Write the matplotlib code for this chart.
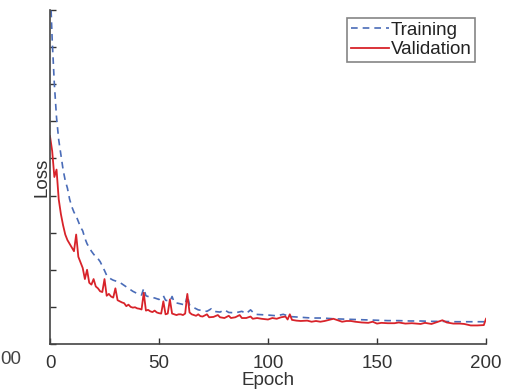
import numpy as np
import matplotlib.pyplot as plt

plt.rcParams['font.family'] = ['Liberation Sans', 'DejaVu Sans']

# training loss
train_epoch = [0, 1, 2, 3, 4, 5, 6, 7, 8, 9, 10, 11, 12, 13, 14, 15, 16, 17, 18, 19,
               20, 21, 22, 23, 24, 25, 26, 27, 28, 29, 30, 32, 34, 36, 38, 40, 42, 43, 44, 46,
               48, 50, 52, 53, 55, 56, 57, 60, 62, 63, 64, 66, 68, 70, 72, 74, 75, 78, 80, 82,
               85, 88, 90, 92, 94, 97, 100, 104, 107, 110, 115, 120, 125, 130, 135, 140, 145, 150, 155, 160,
               165, 170, 175, 180, 185, 190, 195, 200]
train_loss = [9.8, 8.2, 7.0, 6.1, 5.5, 5.1, 4.7, 4.4, 4.2, 3.9, 3.7, 3.55, 3.45, 3.3, 3.15, 3.05, 2.85, 2.7, 2.6, 2.5,
              2.42, 2.35, 2.3, 2.22, 2.1, 1.98, 1.85, 1.8, 1.75, 1.72, 1.7, 1.66, 1.58, 1.5, 1.42, 1.36, 1.32, 1.5, 1.3, 1.26,
              1.24, 1.2, 1.3, 1.18, 1.15, 1.28, 1.12, 1.08, 1.05, 1.32, 1.05, 0.98, 0.92, 0.9, 0.88, 0.95, 0.88, 0.86, 0.92, 0.85,
              0.84, 0.88, 0.82, 0.92, 0.8, 0.79, 0.78, 0.76, 0.8, 0.74, 0.72, 0.7, 0.7, 0.68, 0.67, 0.66, 0.65, 0.64, 0.63, 0.63,
              0.62, 0.62, 0.61, 0.61, 0.6, 0.6, 0.6, 0.6]

# validation loss
val_epoch = [0, 1, 2, 3, 4, 5, 6, 7, 8, 9, 10, 11, 12, 13, 14, 15, 16, 17, 18, 19,
             20, 21, 22, 23, 24, 25, 26, 27, 28, 29, 30, 31, 32, 33, 34, 35, 36, 37, 38, 39,
             40, 41, 42, 43, 44, 45, 46, 47, 48, 49, 50, 51, 52, 53, 54, 55, 56, 57, 58, 59,
             60, 61, 62, 63, 64, 65, 66, 67, 68, 69, 70, 72, 73, 75, 77, 78, 80, 82, 83, 85,
             87, 88, 90, 92, 93, 95, 97, 100, 102, 104, 106, 108, 109, 110, 111, 113, 115, 118, 120, 122,
             124, 126, 128, 130, 132, 134, 136, 138, 140, 143, 146, 148, 150, 152, 155, 158, 160, 163, 166, 170,
             172, 175, 178, 180, 182, 185, 188, 190, 193, 196, 199, 200]
val_loss = [5.6, 5.2, 4.5, 4.7, 3.9, 3.5, 3.2, 2.95, 2.8, 2.7, 2.6, 2.5, 2.95, 2.35, 2.2, 2.05, 1.75, 2.0, 1.65, 1.6,
            1.75, 1.55, 1.5, 1.42, 1.4, 1.75, 1.3, 1.35, 1.28, 1.25, 1.5, 1.18, 1.15, 1.12, 1.1, 1.02, 1.06, 1.0, 0.98, 0.99,
            0.96, 0.95, 0.93, 1.38, 0.9, 0.92, 0.88, 0.86, 0.9, 0.85, 0.83, 0.82, 1.15, 0.8, 0.82, 1.2, 0.82, 0.8, 0.78, 0.8,
            0.8, 0.78, 0.82, 1.35, 0.85, 0.8, 0.78, 0.76, 0.8, 0.75, 0.74, 0.8, 0.72, 0.73, 0.78, 0.72, 0.7, 0.76, 0.7, 0.72,
            0.78, 0.7, 0.7, 0.74, 0.68, 0.7, 0.68, 0.66, 0.7, 0.68, 0.72, 0.74, 0.66, 0.8, 0.65, 0.63, 0.62, 0.63, 0.6, 0.62,
            0.6, 0.62, 0.65, 0.68, 0.64, 0.6, 0.62, 0.62, 0.6, 0.58, 0.57, 0.6, 0.55, 0.57, 0.56, 0.56, 0.58, 0.55, 0.56, 0.54,
            0.57, 0.54, 0.6, 0.64, 0.58, 0.55, 0.55, 0.54, 0.5, 0.5, 0.51, 0.68]

xticks = [0, 50, 100, 150, 200]

fig = plt.figure(figsize=(5.24, 3.91), dpi=100)
ax = fig.add_axes([50/524, 1-344/391, 436/524, 334/391])

ax.plot(train_epoch, train_loss, '--', color='#4a6cb8', lw=1.2, dashes=(4, 3), label='Training')
ax.plot(val_epoch, val_loss, '-', color='#d8232a', lw=1.3, label='Validation')

ax.set_xlim(0, 200)
ax.set_ylim(0, 9)
ax.set_xticks(xticks)
ax.set_yticks(np.arange(0, 10))
ax.set_yticklabels([])
ax.tick_params(direction='in', length=4, width=1, colors='#333333', labelsize=13.5, labelcolor='#333333')
ax.tick_params(axis='x', pad=8)
for s in ['top', 'right']:
    ax.spines[s].set_visible(False)
for s in ['left', 'bottom']:
    ax.spines[s].set_color('#444444')
    ax.spines[s].set_linewidth(1.2)

ax.set_xlabel('Epoch', fontsize=13.5, color='#333333', labelpad=0)
ax.set_ylabel('Loss', fontsize=13.5, color='#333333', labelpad=-4)

leg = ax.legend(loc='upper right', bbox_to_anchor=(0.975, 0.976), fontsize=13.5, frameon=True, fancybox=False,
                handlelength=2.0, handletextpad=0.1, borderpad=0.2, labelspacing=0.12, borderaxespad=0)
leg.get_frame().set_edgecolor('#666666')
leg.get_frame().set_linewidth(1.2)
for t in leg.get_texts():
    t.set_color('#222222')

# label of the neighbouring panel, cut at the left edge in the original
fig.text(0, 1-360/391, '00', ha='left', va='center', fontsize=13.5, color='#444444')

fig.savefig('out.png', dpi=100)
